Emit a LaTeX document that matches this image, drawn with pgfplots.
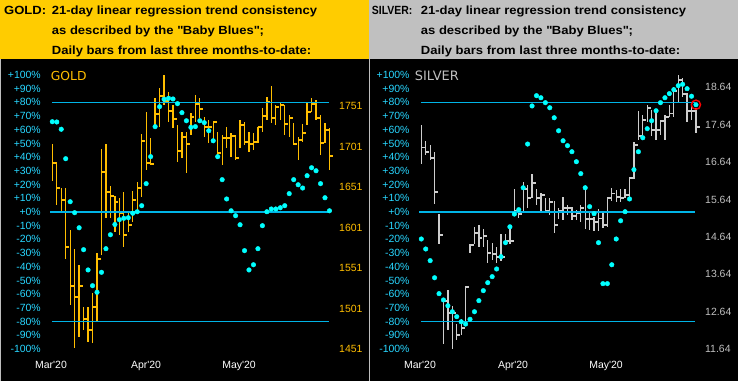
\documentclass[border=0pt]{standalone}
\usepackage{pgfplots}
\usepackage{pgfplotstable}
\pgfplotsset{compat=1.18}
\usepackage{fontspec}
\setmainfont{Liberation Sans}
\newfontfamily\dejavu{DejaVu Sans}
\newfontfamily\hdrfont{Liberation Sans}[FakeStretch=1.1]
\newfontfamily\hdrnarrow{Liberation Sans}[FakeStretch=0.88]
\definecolor{goldc}{RGB}{255,190,0}
\definecolor{hdrgold}{RGB}{255,204,0}
\definecolor{hdrgray}{RGB}{192,192,192}
\definecolor{silvc}{RGB}{205,205,205}
\definecolor{silvlbl}{RGB}{192,192,192}
\definecolor{bbc}{RGB}{0,255,255}
\definecolor{lblc}{RGB}{40,215,255}
\definecolor{hlc}{RGB}{0,180,230}
\definecolor{divc}{RGB}{190,190,190}
\newcommand\hdr{\hdrfont\fontsize{11.9}{14}\selectfont\bfseries}
\newcommand\tl{\fontsize{10.5}{12}\selectfont}
\pgfdeclareplotmark{closetick}{\pgfpathmoveto{\pgfpointorigin}\pgfpathlineto{\pgfpoint{3.6bp}{0pt}}\pgfusepathqstroke}

\pgfplotstableread{
i H L C
0 1704.4 1659.0 1681.3
1 1681.8 1629.0 1650.4
2 1650.4 1620.3 1635.2
3 1650.4 1561.9 1576.7
4 1598.1 1505.4 1529.2
5 1574.2 1451.9 1515.6
6 1554.8 1466.2 1529.2
7 1503.3 1474.5 1488.5
8 1503.3 1460.0 1474.5
9 1520.6 1458.0 1502.5
10 1570.0 1484.7 1561.9
11 1698.2 1567.2 1670.2
12 1704.4 1612.9 1644.7
13 1652.9 1612.6 1640.5
14 1640.5 1595.6 1632.3
15 1637.3 1591.9 1618.7
16 1645.4 1577.5 1591.9
17 1618.7 1596.0 1604.6
18 1646.3 1608.4 1635.5
19 1657.1 1618.7 1649.6
20 1716.4 1639.3 1708.1
21 1743.6 1672.3 1681.3
22 1711.4 1678.4 1679.7
23 1761.6 1725.8 1741.9
24 1773.3 1725.8 1764.1
25 1789.7 1752.6 1757.6
26 1768.3 1732.0 1745.2
27 1752.6 1723.8 1735.3
28 1727.9 1682.5 1695.7
29 1719.6 1686.7 1713.4
30 1719.6 1668.2 1704.0
31 1742.3 1715.5 1738.1
32 1765.0 1732.0 1753.5
33 1760.9 1736.2 1747.3
34 1738.1 1713.4 1725.8
35 1734.1 1705.3 1725.8
36 1732.0 1707.2 1731.2
37 1719.6 1690.8 1693.6
38 1715.5 1678.4 1712.2
39 1725.8 1699.1 1712.2
40 1717.6 1688.7 1714.7
41 1715.5 1684.6 1686.7
42 1734.1 1699.1 1727.9
43 1732.0 1703.2 1706.5
44 1719.6 1694.1 1704.0
45 1717.6 1697.0 1706.5
46 1725.8 1705.3 1725.0
47 1748.5 1719.6 1739.4
48 1762.1 1734.1 1755.9
49 1776.1 1730.0 1736.2
50 1752.6 1727.9 1749.8
51 1754.7 1734.1 1752.6
52 1752.6 1715.5 1728.8
53 1740.2 1713.4 1736.2
54 1730.0 1703.2 1704.4
55 1713.4 1684.6 1709.3
56 1728.8 1707.2 1718.0
57 1754.7 1727.9 1744.3
58 1761.6 1744.3 1753.5
59 1758.8 1734.1 1736.2
60 1740.2 1690.8 1705.3
61 1730.0 1705.3 1721.7
62 1723.8 1672.3 1689.9
}\goldbars

\pgfplotstableread{
i P
0 65.9
1 65.7
2 60.4
3 38.9
4 7.5
5 -0.5
6 -11.5
7 -27.5
8 -42.3
9 -53.8
10 -58.6
11 -44.0
12 -26.8
13 -16.6
14 -9.1
15 -5.6
16 -4.6
17 -4.2
18 -0.9
19 0.2
20 4.6
21 20.7
22 40.4
23 62.3
24 76.9
25 82.3
26 83.0
27 82.5
28 79.1
29 72.5
30 66.6
31 61.8
32 62.3
33 66.6
34 65.2
35 59.3
36 52.0
37 40.4
38 23.6
39 9.5
40 0.9
41 -2.7
42 -9.3
43 -28.2
44 -42.3
45 -38.5
46 -26.8
47 -10.0
48 0.2
49 2.2
50 2.2
51 3.1
52 4.6
53 13.4
54 23.6
55 19.9
56 17.5
57 26.5
58 32.3
59 30.1
60 20.7
61 10.4
62 0.9
}\golddots

\pgfplotstableread{
i H L C
0 17.63 16.58 17.03
1 17.20 16.83 16.90
2 17.11 16.69 16.74
3 16.91 15.53 15.83
4 15.24 14.46 14.68
5 12.96 11.78 12.93
6 13.23 12.14 12.60
7 12.78 11.65 12.60
8 12.32 11.87 12.01
9 12.45 12.01 12.19
10 13.32 12.30 13.29
11 14.44 14.21 14.42
12 14.91 14.46 14.75
13 14.95 14.36 14.62
14 14.85 14.36 14.66
15 14.55 13.94 14.21
16 14.48 14.02 14.18
17 14.37 13.94 14.09
18 14.71 14.00 14.10
19 14.71 14.46 14.53
20 14.95 14.46 14.53
21 15.93 15.24 15.33
22 15.38 15.15 15.25
23 16.11 15.31 15.93
24 16.02 15.40 15.69
25 16.32 15.68 16.07
26 15.93 15.49 15.67
27 15.80 15.31 15.76
28 15.67 15.27 15.33
29 15.69 15.22 15.58
30 15.59 14.73 14.95
31 15.40 15.13 15.33
32 15.71 15.09 15.40
33 15.49 15.22 15.40
34 15.44 15.09 15.20
35 15.35 15.09 15.27
36 15.49 15.04 15.42
37 15.93 14.86 15.11
38 15.31 14.82 15.11
39 15.17 14.79 15.04
40 15.38 14.79 15.13
41 15.31 14.88 14.95
42 15.71 14.91 15.68
43 15.95 15.59 15.80
44 15.89 15.56 15.71
45 15.92 15.56 15.67
46 15.92 15.68 15.77
47 16.25 15.67 16.22
48 17.17 16.20 17.09
49 18.00 17.23 17.34
50 17.90 17.25 17.76
51 18.18 17.72 18.09
52 18.03 17.34 17.50
53 17.99 17.23 17.50
54 17.76 17.36 17.74
55 17.90 17.23 17.84
56 18.18 17.85 17.94
57 18.66 17.85 18.54
58 18.97 18.21 18.83
59 18.90 18.39 18.45
60 18.48 17.72 18.00
61 18.18 17.76 18.00
62 18.08 17.41 17.58
}\silverbars

\pgfplotstableread{
i P
0 -19.7
1 -27.0
2 -35.5
3 -48.0
4 -59.6
5 -64.2
6 -68.4
7 -72.8
8 -76.4
9 -80.1
10 -81.8
11 -78.3
12 -72.8
13 -64.7
14 -57.4
15 -51.6
16 -47.2
17 -41.6
18 -32.6
19 -22.4
20 -10.8
21 -1.5
22 1.7
23 17.7
24 49.6
25 77.4
26 84.9
27 83.4
28 79.8
29 76.1
30 68.8
31 59.3
32 52.0
33 48.4
34 44.0
35 36.7
36 28.0
37 17.7
38 3.9
39 -1.2
40 -22.4
41 -52.3
42 -52.3
43 -38.5
44 -19.7
45 -6.4
46 0.2
47 9.5
48 30.9
49 44.0
50 54.2
51 60.8
52 66.6
53 73.9
54 79.8
55 83.4
56 86.4
57 89.3
58 92.2
59 93.2
60 90.0
61 84.5
62 78.3
}\silverdots

\pgfplotsset{
  panel/.style={scale only axis, anchor=south west, height=274bp,
    axis line style={draw=none}, major tick length=0pt, tick style={draw=none},
    clip=false, ticklabel style={font=\tl}},
  pctaxis/.style={ymin=-100, ymax=100,
    ytick={-100,-90,...,100},
    yticklabels={-100\%,-90\%,-80\%,-70\%,-60\%,-50\%,-40\%,-30\%,-20\%,-10\%,+0\%,+10\%,+20\%,+30\%,+40\%,+50\%,+60\%,+70\%,+80\%,+90\%,+100\%},
    yticklabel style={text=lblc, anchor=east, inner sep=0pt, xshift=-4bp},
    xticklabels={Mar\textquotesingle 20,Apr\textquotesingle 20,May\textquotesingle 20},
    xticklabel style={text=white, anchor=north, inner sep=0pt, yshift=-12bp}},
  pricestyle/.style={xtick=\empty, yticklabel pos=right,
    yticklabel style={anchor=west, inner sep=0pt, xshift=4bp}},
  barstyle/.style={only marks, mark=closetick, mark options={#1, line width=1.9bp},
    error bars/.cd, y dir=both, y explicit, error mark=none,
    error bar style={#1, line width=1.3bp}},
  dotstyle/.style={only marks, mark=*, mark size=2.3bp, bbc}
}

\begin{document}
\begin{tikzpicture}
\useasboundingbox (0bp,0bp) rectangle (738bp,381bp);
\fill[black] (0bp,0bp) rectangle (738bp,381bp);
\fill[hdrgold] (0bp,321.5bp) rectangle (369.3bp,381bp);
\fill[hdrgray] (369.3bp,321.5bp) rectangle (738bp,381bp);
\draw[divc, line width=1bp] (369.3bp,0bp) -- (369.3bp,321.5bp);
\draw[divc, line width=1bp] (0.5bp,0bp) -- (0.5bp,321.5bp);

% headers
\node[anchor=base west, inner sep=0pt, font=\hdr] at (4bp,366bp) {GOLD:};
\node[anchor=base west, inner sep=0pt, font=\hdr] at (51.7bp,366bp) {21-day linear regression trend consistency};
\node[anchor=base west, inner sep=0pt, font=\hdr] at (51.7bp,346.3bp) {as described by the \textquotedbl Baby Blues\textquotedbl;};
\node[anchor=base west, inner sep=0pt, font=\hdr] at (51.7bp,326.7bp) {Daily bars from last three months-to-date:};
\node[anchor=base west, inner sep=0pt, font=\hdrnarrow\fontsize{11.9}{14}\selectfont\bfseries] at (371.7bp,366bp) {SILVER:};
\node[anchor=base west, inner sep=0pt, font=\hdr] at (420.7bp,366bp) {21-day linear regression trend consistency};
\node[anchor=base west, inner sep=0pt, font=\hdr] at (420.7bp,346.3bp) {as described by the \textquotedbl Baby Blues\textquotedbl;};
\node[anchor=base west, inner sep=0pt, font=\hdr] at (420.7bp,326.7bp) {Daily bars from last three months-to-date:};

% ---------- GOLD ----------
\begin{axis}[panel, pricestyle, at={(45bp,32bp)}, width=290bp,
  xmin=-1.633, xmax=63.24, ymin=1451, ymax=1789.7,
  ytick={1451,1501,1551,1601,1651,1701,1751},
  yticklabels={1451,1501,1551,1601,1651,1701,1751},
  yticklabel style={text=goldc}]
\addplot[barstyle=goldc]
  table[x=i, y=C, y error plus expr=\thisrow{H}-\thisrow{C}, y error minus expr=\thisrow{C}-\thisrow{L}] {\goldbars};
\end{axis}
\begin{axis}[panel, pctaxis, at={(45bp,32bp)}, width=290bp,
  xmin=-1.633, xmax=63.24, xtick={-0.29,20.96,41.77}]
\addplot[hlc, line width=1.2bp] coordinates {(-0.07,80) (61.9,80)};
\addplot[hlc, line width=1.2bp] coordinates {(-0.51,0) (61.9,0)};
\addplot[hlc, line width=1.2bp] coordinates {(-0.07,-80) (61.9,-80)};
\addplot[dotstyle] table[x=i, y=P] {\golddots};
\end{axis}
\node[anchor=base west, inner sep=0pt, text=goldc, font=\dejavu\fontsize{12.4}{14}\selectfont] at (50.7bp,300bp) {GOLD};

% ---------- SILVER ----------
\begin{axis}[panel, pricestyle, at={(413.7bp,32bp)}, width=287.3bp,
  xmin=-1.716, xmax=63.14, ymin=11.64, ymax=18.97,
  ytick={11.64,12.64,13.64,14.64,15.64,16.64,17.64,18.64},
  yticklabels={11.64,12.64,13.64,14.64,15.64,16.64,17.64,18.64},
  yticklabel style={text=silvlbl}]
\addplot[barstyle=silvc]
  table[x=i, y=C, y error plus expr=\thisrow{H}-\thisrow{C}, y error minus expr=\thisrow{C}-\thisrow{L}] {\silverbars};
\end{axis}
\begin{axis}[panel, pctaxis, at={(413.7bp,32bp)}, width=287.3bp,
  xmin=-1.716, xmax=63.14, xtick={-0.29,20.70,41.70}]
\addplot[hlc, line width=1.2bp] coordinates {(-0.07,80) (61.78,80)};
\addplot[hlc, line width=1.2bp] coordinates {(-0.52,0) (61.78,0)};
\addplot[hlc, line width=1.2bp] coordinates {(-0.07,-80) (61.78,-80)};
\addplot[dotstyle] table[x=i, y=P] {\silverdots};
\addplot[only marks, mark=o, mark size=4.6bp, mark options={red, line width=1.4bp}] coordinates {(62,78.3)};
\end{axis}
\node[anchor=base west, inner sep=0pt, text=silvlbl, font=\dejavu\fontsize{13}{15}\selectfont] at (414.7bp,300bp) {SILVER};
\end{tikzpicture}
\end{document}
